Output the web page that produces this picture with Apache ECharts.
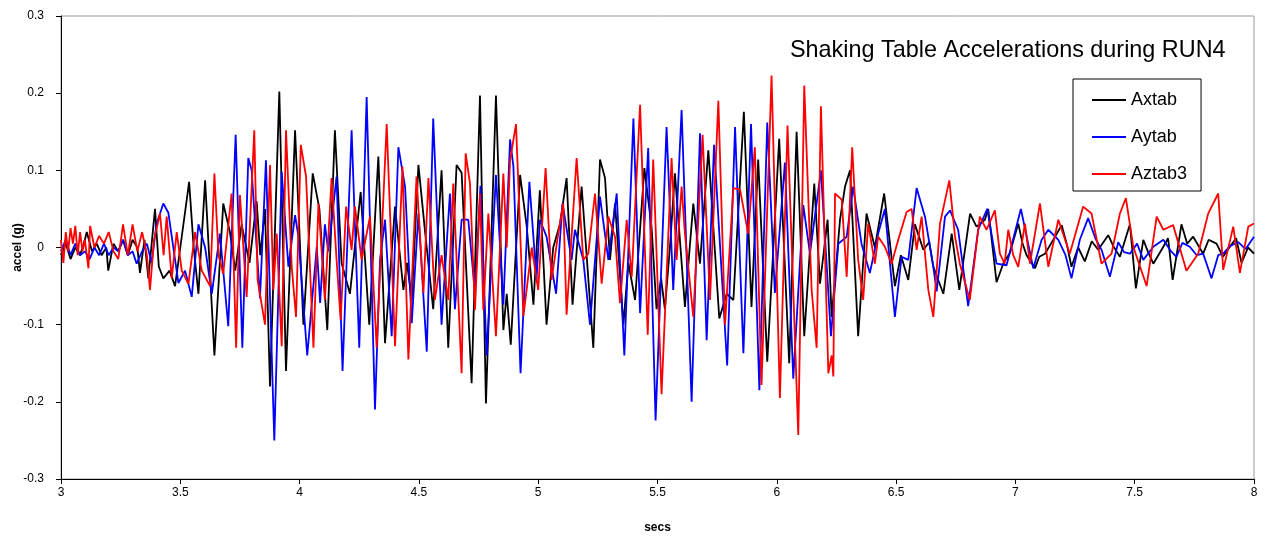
<!DOCTYPE html>
<html><head><meta charset="utf-8">
<script src="https://cdn.jsdelivr.net/npm/echarts@6/dist/echarts.min.js"></script>
<style>html,body{margin:0;padding:0;background:#fff}#c{width:1271px;height:541px}</style>
</head><body><div id="c"></div>
<script>
const seriesNames = ['Axtab', 'Aytab', 'Aztab3'];
const xTickLabels = ['3','3.5','4','4.5','5','5.5','6','6.5','7','7.5','8'];

const axtabTime = [3.00,3.02,3.04,3.06,3.08,3.10,3.108,3.13,3.15,3.17,3.19,3.198,3.22,3.24,3.26,3.28,3.30,3.32,3.331,3.35,3.366,3.394,3.41,3.429,3.455,3.478,3.50,3.52,3.537,3.556,3.576,3.604,3.643,3.68,3.708,3.73,3.757,3.79,3.82,3.835,3.855,3.876,3.915,3.943,3.981,4.016,4.055,4.083,4.116,4.148,4.176,4.211,4.256,4.292,4.33,4.358,4.40,4.435,4.45,4.47,4.498,4.526,4.56,4.595,4.623,4.658,4.679,4.721,4.756,4.781,4.823,4.854,4.868,4.885,4.924,4.952,4.98,5.007,5.035,5.063,5.091,5.119,5.144,5.182,5.231,5.259,5.28,5.301,5.322,5.357,5.378,5.406,5.445,5.475,5.496,5.515,5.531,5.552,5.573,5.615,5.65,5.678,5.713,5.759,5.79,5.818,5.862,5.894,5.922,5.96,6.01,6.052,6.083,6.115,6.157,6.181,6.213,6.23,6.265,6.286,6.307,6.341,6.376,6.411,6.45,6.495,6.52,6.551,6.579,6.614,6.639,6.656,6.698,6.733,6.765,6.81,6.837,6.872,6.886,6.921,6.95,6.977,7.012,7.03,7.047,7.082,7.10,7.124,7.159,7.194,7.215,7.235,7.263,7.291,7.32,7.347,7.389,7.41,7.438,7.48,7.505,7.536,7.555,7.578,7.62,7.64,7.659,7.696,7.72,7.745,7.787,7.81,7.843,7.87,7.899,7.925,7.948,7.975,8.00];
const axtabAccel = [-0.01,0.005,-0.015,0.0,-0.01,0.01,0.02,-0.005,0.005,-0.01,0.0,-0.03,0.005,-0.005,0.01,-0.01,0.01,0.0,-0.033,0.01,-0.04,0.05,-0.025,-0.04,-0.03,-0.05,0.0,0.046,0.085,0.0,-0.06,0.087,-0.14,0.057,0.02,-0.03,0.03,-0.02,0.06,-0.01,0.05,-0.18,0.202,-0.16,0.152,-0.1,0.096,0.05,-0.107,0.152,-0.02,-0.06,0.072,-0.1,0.118,-0.124,0.053,-0.055,-0.02,-0.068,0.107,0.02,-0.08,0.1,-0.13,0.107,0.097,-0.176,0.197,-0.202,0.197,-0.107,-0.06,-0.126,0.094,0.027,-0.074,0.074,-0.1,0.0,0.03,0.09,-0.074,0.079,-0.13,0.114,0.09,-0.016,0.057,-0.1,-0.02,-0.068,0.103,0.027,-0.08,-0.04,-0.08,0.0,0.096,-0.077,0.057,-0.021,0.126,-0.092,-0.06,-0.068,0.176,-0.077,0.114,-0.148,0.141,-0.15,0.15,-0.115,0.083,-0.047,0.036,-0.09,0.036,0.079,0.1,-0.115,0.044,0.0,0.07,-0.05,-0.01,-0.042,0.03,-0.003,0.007,-0.025,-0.06,0.018,-0.055,0.044,0.027,0.036,0.05,-0.045,-0.02,-0.007,0.031,0.005,-0.01,-0.027,-0.012,-0.008,0.01,0.029,0.005,-0.025,0.0,-0.018,0.008,-0.003,0.016,0.002,-0.012,0.03,-0.053,0.01,-0.005,-0.021,0.001,0.012,-0.042,0.03,0.005,0.014,-0.008,0.01,0.005,-0.012,0.001,0.012,-0.02,0.0,-0.008];

const aytabTime = [3.00,3.02,3.04,3.06,3.08,3.10,3.12,3.14,3.16,3.18,3.20,3.22,3.24,3.26,3.28,3.30,3.317,3.34,3.36,3.38,3.40,3.429,3.45,3.492,3.52,3.548,3.576,3.604,3.632,3.666,3.701,3.732,3.76,3.785,3.799,3.834,3.859,3.894,3.925,3.953,3.981,3.995,4.032,4.072,4.086,4.106,4.12,4.155,4.18,4.218,4.25,4.281,4.316,4.337,4.358,4.386,4.414,4.442,4.47,4.498,4.533,4.56,4.595,4.63,4.651,4.679,4.707,4.735,4.758,4.784,4.823,4.854,4.882,4.896,4.926,4.963,4.993,5.007,5.035,5.075,5.102,5.14,5.154,5.189,5.217,5.259,5.294,5.329,5.361,5.399,5.427,5.461,5.492,5.538,5.566,5.601,5.643,5.678,5.706,5.737,5.792,5.825,5.86,5.892,5.927,5.96,5.992,6.034,6.069,6.111,6.139,6.185,6.227,6.258,6.293,6.32,6.355,6.39,6.425,6.453,6.495,6.523,6.551,6.586,6.621,6.656,6.67,6.705,6.726,6.76,6.802,6.844,6.882,6.921,6.963,6.99,7.023,7.05,7.075,7.11,7.138,7.18,7.21,7.235,7.27,7.305,7.335,7.361,7.396,7.431,7.455,7.48,7.51,7.536,7.578,7.62,7.65,7.675,7.70,7.731,7.76,7.787,7.822,7.85,7.871,7.90,7.934,7.965,8.00];
const aytabAccel = [-0.005,0.01,-0.01,0.005,-0.01,-0.005,-0.015,0.0,-0.01,0.005,-0.01,0.0,-0.005,0.01,-0.01,-0.005,-0.021,-0.005,0.005,-0.02,0.03,0.057,0.045,-0.046,-0.03,-0.064,0.03,0.0,-0.06,0.018,-0.102,0.146,-0.13,0.116,0.1,-0.066,0.113,-0.25,0.098,-0.025,0.042,0.014,-0.14,0.001,-0.072,0.03,-0.005,0.092,-0.16,0.152,-0.13,0.195,-0.21,-0.016,0.036,-0.115,0.13,0.079,-0.098,0.044,-0.135,0.167,-0.1,0.07,-0.08,0.036,0.036,-0.059,0.08,-0.14,0.094,-0.074,0.14,0.105,-0.163,0.085,-0.042,0.036,0.014,-0.06,0.057,-0.016,0.023,-0.016,-0.1,0.066,-0.016,0.07,-0.14,0.167,-0.085,0.129,-0.224,0.156,-0.055,0.178,-0.2,0.148,-0.12,0.133,-0.153,0.156,-0.137,0.16,-0.185,0.162,-0.059,0.11,-0.17,0.055,-0.008,0.1,-0.115,0.005,0.014,0.079,0.005,-0.033,0.018,0.05,-0.09,-0.012,-0.016,0.077,0.04,-0.025,-0.057,0.04,0.048,0.023,-0.076,0.023,0.05,-0.021,-0.023,0.01,0.05,0.01,-0.027,0.01,0.023,0.01,-0.01,-0.04,0.01,0.038,0.012,-0.003,-0.038,0.007,-0.006,-0.008,0.005,-0.016,0.001,0.01,-0.004,-0.012,0.006,0.001,-0.01,-0.008,-0.04,-0.01,-0.008,0.002,0.007,-0.002,0.014];

const aztab3Time = [3.00,3.01,3.02,3.03,3.04,3.05,3.06,3.07,3.08,3.09,3.10,3.115,3.122,3.14,3.16,3.18,3.20,3.22,3.24,3.26,3.28,3.30,3.32,3.34,3.36,3.373,3.39,3.415,3.43,3.443,3.464,3.485,3.506,3.534,3.562,3.59,3.625,3.643,3.66,3.68,3.715,3.734,3.75,3.778,3.81,3.824,3.855,3.876,3.89,3.904,3.925,3.943,3.967,3.985,4.005,4.027,4.058,4.079,4.106,4.134,4.155,4.172,4.195,4.218,4.232,4.26,4.295,4.323,4.365,4.40,4.431,4.456,4.49,4.519,4.54,4.567,4.595,4.623,4.644,4.679,4.696,4.714,4.735,4.756,4.77,4.791,4.823,4.854,4.868,4.882,4.907,4.938,4.973,5.0,5.031,5.056,5.084,5.105,5.119,5.161,5.189,5.21,5.238,5.266,5.294,5.322,5.343,5.371,5.392,5.427,5.459,5.482,5.517,5.559,5.58,5.601,5.615,5.65,5.689,5.72,5.755,5.783,5.818,5.846,5.88,5.908,5.936,5.978,6.013,6.045,6.09,6.115,6.146,6.167,6.185,6.216,6.23,6.237,6.244,6.272,6.293,6.316,6.341,6.362,6.383,6.411,6.425,6.453,6.481,6.509,6.544,6.565,6.586,6.607,6.635,6.656,6.684,6.723,6.747,6.767,6.809,6.851,6.879,6.914,6.935,6.955,6.97,6.991,7.012,7.04,7.061,7.103,7.138,7.18,7.228,7.284,7.319,7.361,7.403,7.438,7.463,7.494,7.55,7.592,7.62,7.661,7.717,7.766,7.808,7.85,7.871,7.913,7.941,7.976,8.00];
const aztab3Accel = [0.01,-0.02,0.02,-0.005,0.025,0.005,0.028,-0.01,0.02,-0.005,0.01,-0.027,0.028,0.0,0.015,0.005,0.02,-0.005,-0.015,0.03,-0.01,0.03,-0.005,0.02,-0.01,-0.055,0.01,0.044,-0.01,0.04,-0.04,0.02,-0.03,-0.047,0.02,-0.03,-0.05,0.096,-0.01,-0.034,0.07,-0.13,0.068,-0.064,0.152,-0.042,-0.1,0.107,-0.055,0.018,-0.128,0.152,-0.025,-0.09,0.133,0.092,-0.13,0.057,-0.068,0.09,-0.016,-0.094,0.053,-0.003,0.053,-0.016,0.04,-0.13,0.16,-0.128,0.105,-0.145,0.092,-0.059,0.09,-0.068,-0.01,-0.068,0.083,-0.163,0.122,0.083,-0.081,0.07,-0.081,0.044,-0.115,0.096,0.0,0.113,0.16,-0.089,0.0,-0.055,0.103,-0.042,0.018,0.057,-0.087,0.116,-0.016,-0.008,0.07,-0.047,0.04,0.014,-0.072,0.036,-0.038,0.185,-0.113,0.114,-0.19,0.116,-0.016,0.079,0.018,-0.09,0.146,-0.068,0.19,-0.1,0.077,0.075,0.018,0.13,-0.178,0.223,-0.195,0.158,-0.243,0.21,-0.055,-0.13,0.183,-0.163,-0.14,-0.167,0.07,0.062,-0.038,0.13,-0.016,-0.068,0.031,-0.021,0.014,0.001,-0.021,0.01,0.046,0.05,-0.003,0.04,-0.055,-0.09,0.031,0.087,0.014,-0.021,-0.068,0.04,0.023,0.048,-0.008,-0.021,0.023,-0.01,-0.025,0.031,-0.021,0.057,-0.025,0.036,-0.008,0.053,0.044,-0.021,-0.008,0.044,0.064,0.001,-0.05,0.04,0.023,0.029,-0.03,-0.008,0.044,0.07,-0.029,0.027,-0.033,0.027,0.031];

function pairs(t, v) { return t.map((x, i) => [x, v[i]]); }

const FONT = 'Liberation Sans, Arial, sans-serif';
const chart = echarts.init(document.getElementById('c'), null, {renderer: 'canvas'});
chart.setOption({
  animation: false,
  backgroundColor: '#fff',
  title: {
    text: 'Shaking Table Accelerations during RUN4',
    left: 785, top: 34,
    textStyle: {fontFamily: FONT, fontSize: 23.4, fontWeight: 'normal', color: '#000'}
  },
  legend: {
    orient: 'vertical',
    left: 1073, top: 79,
    padding: [12, 14, 8, 18],
    itemWidth: 34, itemHeight: 14, itemGap: 19,
    borderColor: '#000', borderWidth: 1,
    backgroundColor: '#fff',
    itemStyle: {opacity: 0},
    textStyle: {fontFamily: FONT, fontSize: 18, color: '#000'},
    data: seriesNames
  },
  grid: {left: 61, right: 17, top: 16, bottom: 62, show: true, borderColor: '#999', borderWidth: 1,
    containLabel: false, outerBoundsMode: 'none'},
  xAxis: {
    type: 'value', min: 3, max: 8, interval: 0.5,
    name: 'secs', nameLocation: 'middle', nameGap: 43,
    nameTextStyle: {fontFamily: FONT, fontSize: 12, fontWeight: 'bold', color: '#000'},
    axisLine: {onZero: false, lineStyle: {color: '#000', width: 1}},
    axisTick: {show: true, inside: false, length: 5, lineStyle: {color: '#000'}},
    splitLine: {show: false},
    axisLabel: {fontFamily: FONT, fontSize: 12, color: '#000', margin: 8,
      formatter: v => xTickLabels[Math.round((v - 3) / 0.5)]}
  },
  yAxis: {
    type: 'value', min: -0.3, max: 0.3, interval: 0.1,
    name: 'accel (g)', nameLocation: 'middle', nameGap: 37, nameMoveOverlap: false,
    nameTextStyle: {fontFamily: FONT, fontSize: 12, fontWeight: 'bold', color: '#000'},
    axisLine: {show: true, onZero: false, lineStyle: {color: '#000', width: 1}},
    axisTick: {show: true, inside: false, length: 5, lineStyle: {color: '#000'}},
    splitLine: {show: false},
    axisLabel: {fontFamily: FONT, fontSize: 12, color: '#000', margin: 17,
      formatter: v => { const r = Math.round(v * 10) / 10; return r === 0 ? '0' : String(r); }}
  },
  series: [
    {name: 'Axtab', type: 'line', data: pairs(axtabTime, axtabAccel), showSymbol: false, symbol: 'none',
     lineStyle: {color: '#000000', width: 1.8}, itemStyle: {color: '#000000'}, z: 2},
    {name: 'Aytab', type: 'line', data: pairs(aytabTime, aytabAccel), showSymbol: false, symbol: 'none',
     lineStyle: {color: '#0000ff', width: 1.8}, itemStyle: {color: '#0000ff'}, z: 3},
    {name: 'Aztab3', type: 'line', data: pairs(aztab3Time, aztab3Accel), showSymbol: false, symbol: 'none',
     lineStyle: {color: '#ff0000', width: 1.8}, itemStyle: {color: '#ff0000'}, z: 4}
  ]
});
</script>
</body></html>
